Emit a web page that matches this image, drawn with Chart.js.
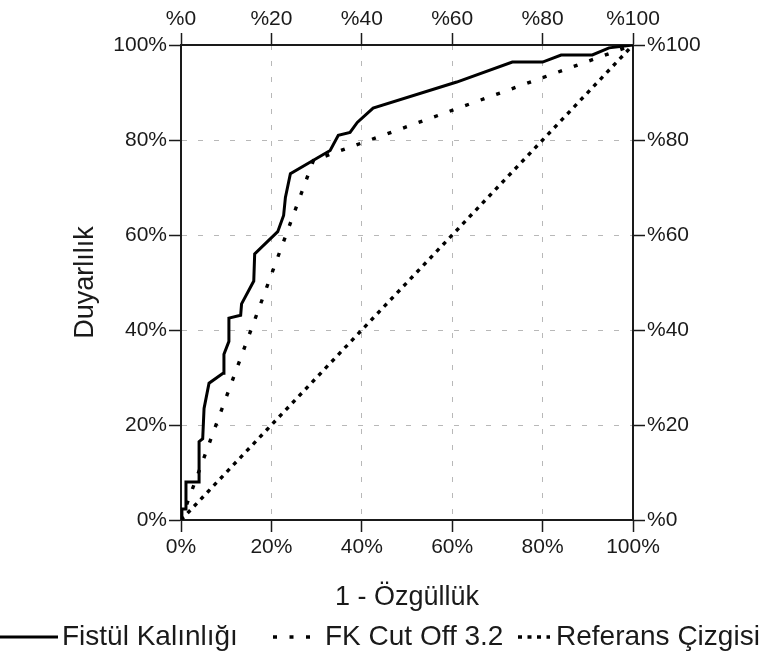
<!DOCTYPE html>
<html lang="tr">
<head>
<meta charset="utf-8">
<title>ROC Eğrisi</title>
<script src="https://cdn.jsdelivr.net/npm/chart.js@4.4.1/dist/chart.umd.min.js"></script>
<style>
  html, body { margin: 0; padding: 0; background: #fff; }
  #kutu { position: relative; width: 783px; height: 661px; }
</style>
</head>
<body>
<div id="kutu"><canvas id="grafik" width="783" height="661"></canvas></div>
<script>
// 1 - özgüllük (%) ve duyarlılık (%) değerleri
const fistulX = [0, 0.2, 0.2, 1.1, 1.1, 4.0, 4.0, 4.8, 5.1, 6.2, 9.3, 9.5, 10.6, 10.6, 13.2, 13.4, 16.1, 16.3,
  21.4, 22.7, 23.1, 24.2, 33.0, 34.8, 37.4, 39.0, 42.5, 61.0, 73.3, 80.0, 84.1, 91.0, 94.7, 100];
const fistulY = [0, 0, 2.3, 2.3, 8.0, 8.0, 16.5, 17.1, 23.5, 28.8, 30.9, 34.9, 37.6, 42.5, 43.1, 45.5, 50.3, 56.0,
  60.7, 64.1, 67.9, 72.9, 77.8, 81.0, 81.6, 83.7, 86.7, 92.2, 96.4, 96.4, 97.9, 97.9, 99.4, 100];
const cutOffX = [0, 29.3, 100];
const cutOffY = [0, 75.7, 100];
const referansX = [0, 100];
const referansY = [0, 100];
const eksenTikleri = [0, 20, 40, 60, 80, 100];
const seriAdlari = ['Fistül Kalınlığı', 'FK Cut Off 3.2', 'Referans Çizgisi'];

const yazi = "'Liberation Sans', Arial, sans-serif";
const koyu = '#1a1a1a';

function noktalar(xs, ys) {
  return xs.map((x, i) => ({ x: x, y: ys[i] }));
}

// eksen ayarları: dört kenarda da dışa bakan tikler
function eksen(konum, etiket, boyut, baslik) {
  const yatay = konum === 'top' || konum === 'bottom';
  const ana = konum === 'bottom' || konum === 'left';
  const e = {
    type: 'linear',
    position: konum,
    min: 0,
    max: 100,
    afterBuildTicks: s => { s.ticks = eksenTikleri.map(v => ({ value: v })); },
    afterFit: s => { if (yatay) s.height = boyut; else s.width = boyut; },
    ticks: {
      callback: etiket,
      color: koyu,
      font: { family: yazi, size: 21 },
      padding: konum === 'top' ? 1 : (yatay ? 3 : 2),
      maxRotation: 0,
      autoSkip: false
    },
    grid: {
      drawOnChartArea: ana,
      color: '#b8b8b8',
      lineWidth: 1,
      tickLength: 12,
      tickColor: koyu,
      tickWidth: 1.5
    },
    border: { color: koyu, width: 2, dash: [5, 11] }
  };
  if (baslik) {
    e.title = {
      display: true,
      text: baslik.text,
      color: koyu,
      font: { family: yazi, size: 27 },
      padding: baslik.padding
    };
  }
  return e;
}

// grafiğin altındaki çizgi örnekli açıklama
const altGosterge = {
  id: 'altGosterge',
  afterDraw(chart, args, opts) {
    const ctx = chart.ctx;
    ctx.save();
    ctx.font = opts.font;
    ctx.textBaseline = 'middle';
    ctx.fillStyle = koyu;
    chart.data.datasets.forEach((ds, i) => {
      const o = opts.ogeler[i];
      ctx.beginPath();
      ctx.lineWidth = ds.borderWidth;
      ctx.strokeStyle = ds.borderColor;
      ctx.setLineDash(ds.borderDash || []);
      ctx.moveTo(o.x, opts.y);
      ctx.lineTo(o.x + o.w, opts.y);
      ctx.stroke();
      ctx.setLineDash([]);
      ctx.fillText(ds.label, o.x + o.w + o.bosluk, opts.y);
    });
    ctx.restore();
  }
};

new Chart(document.getElementById('grafik').getContext('2d'), {
  type: 'line',
  data: {
    datasets: [
      {
        label: seriAdlari[0],
        data: noktalar(fistulX, fistulY),
        borderColor: '#000',
        borderWidth: 3,
        borderJoinStyle: 'miter'
      },
      {
        label: seriAdlari[1],
        data: noktalar(cutOffX, cutOffY),
        borderColor: '#000',
        borderWidth: 3.4,
        borderDash: [4, 12.5]
      },
      {
        label: seriAdlari[2],
        data: noktalar(referansX, referansY),
        borderColor: '#000',
        borderWidth: 3.4,
        borderDash: [4, 5.5]
      }
    ]
  },
  options: {
    responsive: false,
    animation: false,
    devicePixelRatio: 1,
    layout: { padding: 0 },
    elements: { point: { radius: 0 }, line: { tension: 0, fill: false } },
    scales: {
      x: eksen('bottom', v => v + '%', 141, { text: '1 - Özgüllük', padding: { bottom: 47 } }),
      y: eksen('left', v => v + '%', 181, { text: 'Duyarlılık', padding: { top: 69 } }),
      x2: eksen('top', v => '%' + v, 45),
      y2: eksen('right', v => '%' + v, 150)
    },
    plugins: {
      legend: { display: false },
      tooltip: { enabled: false },
      altGosterge: {
        font: '28px ' + yazi,
        y: 637,
        ogeler: [
          { x: 0, w: 58, bosluk: 4 },
          { x: 273, w: 38, bosluk: 14 },
          { x: 518, w: 32, bosluk: 6 }
        ]
      }
    }
  },
  plugins: [altGosterge]
});
</script>
</body>
</html>
